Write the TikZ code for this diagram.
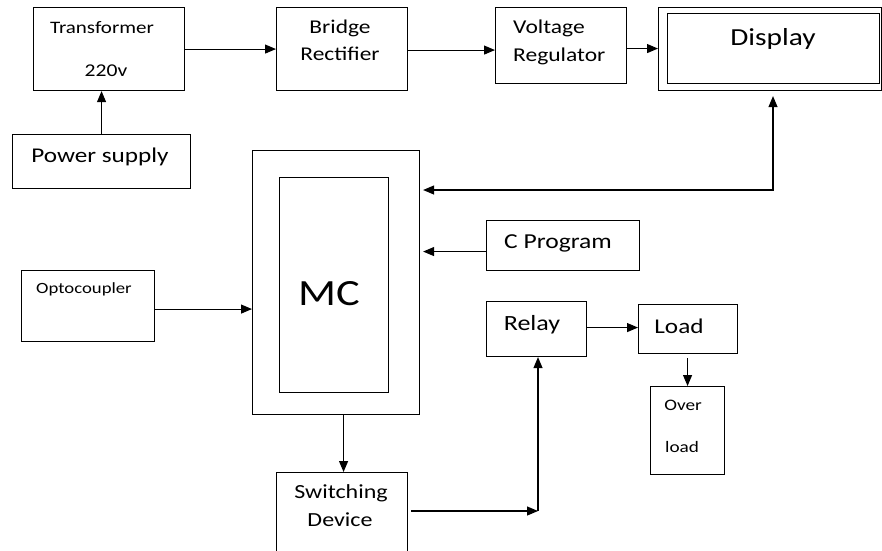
\documentclass[tikz,border=0pt]{standalone}
\usepackage{fontspec}
\setmainfont{Carlito}[FakeStretch=1.2]
\usetikzlibrary{arrows.meta}
\begin{document}
\begin{tikzpicture}[x=1pt,y=-1pt,
  box/.style={draw, line width=1.1pt, inner sep=0pt, anchor=north west},
  txt/.style={anchor=base, inner sep=0pt, font=\fontsize{#1}{#1}\selectfont},
  txtl/.style={anchor=base west, inner sep=0pt, font=\fontsize{#1}{#1}\selectfont},
  arr/.style={line width=1.1pt, -{Triangle[length=11pt,width=9pt]}},
  darr/.style={line width=1.1pt, {Triangle[length=11pt,width=9pt]}-{Triangle[length=11pt,width=9pt]}}]
\useasboundingbox (0,0) rectangle (882,550);
\clip (0,0) rectangle (882,550);
% boxes
\node[box, minimum width=151pt, minimum height=83pt] (trans) at (33,7) {};
\node[box, minimum width=131pt, minimum height=83pt] (bridge) at (276,7) {};
\node[box, minimum width=131pt, minimum height=76pt] (vreg) at (495,7) {};
\node[box, minimum width=223pt, minimum height=83pt] (disp) at (658,7) {};
\node[box, minimum width=212pt, minimum height=70pt] (dispin) at (667,13) {};
\node[box, minimum width=178pt, minimum height=54pt] (power) at (12,134) {};
\node[box, minimum width=167pt, minimum height=264pt] (mc) at (252,150) {};
\node[box, minimum width=109pt, minimum height=215pt] (mcin) at (279,177) {};
\node[box, minimum width=133pt, minimum height=71pt] (opto) at (21,270) {};
\node[box, minimum width=153pt, minimum height=50pt] (cprog) at (486,220) {};
\node[box, minimum width=100pt, minimum height=55pt] (relay) at (486,301) {};
\node[box, minimum width=99pt, minimum height=49pt] (load) at (638,304) {};
\node[box, minimum width=74pt, minimum height=88pt] (over) at (650,386) {};
\node[box, minimum width=131pt, minimum height=90pt] (sw) at (276,472) {};
% texts
\node[txt=17.5] (t1) at (102,33) {Transformer};
\node[txt=18] (t2) at (106,76) {220v};
\node[txt=19.5] (t3) at (340,33) {Bridge};
\node[txt=19.5] (t4) at (340,60) {Rectifier};
\node[txtl=19.6] (t5) at (513,33) {Voltage};
\node[txtl=19.6] (t6) at (513,61) {Regulator};
\node[txt=24.5] (t7) at (773,45) {Display};
\node[txt=21] (t8) at (100,162) {Power supply};
\node[txt=37] (t9) at (329,305) {MC};
\node[txt=15.6] (t10) at (84,293) {Optocoupler};
\node[txt=21.3] (t11) at (558,248) {C Program};
\node[txt=21.7] (t12) at (532,330) {Relay};
\node[txt=21] (t13) at (679,333) {Load};
\node[txt=16] (t14) at (683,410) {Over};
\node[txt=16] (t15) at (682,452) {load};
\node[txt=20] (t16) at (341,498) {Switching};
\node[txt=20] (t17) at (340,526) {Device};
% connectors
\coordinate (c1) at (773,190);
\coordinate (c2) at (538,511);
\draw[arr] (power.north) -- (power.north |- trans.south);
\draw[arr] (trans.east) -- (bridge.west);
\draw[arr] ([yshift=-1pt]bridge.east) -- ([yshift=-1pt]bridge.east -| vreg.west);
\draw[arr] ([yshift=-3pt]vreg.east) -- ([yshift=-3pt]vreg.east -| disp.west);
\draw[darr, shorten <=3pt, shorten >=5pt] (c1 -| mc.east) -- (c1) -- (c1 |- disp.south);
\draw[arr, shorten >=3pt] ([yshift=-6pt]cprog.west) -- ([yshift=-6pt]cprog.west -| mc.east);
\draw[arr] ([yshift=-3pt]opto.east) -- ([yshift=-3pt]opto.east -| mc.west);
\draw[arr] ([xshift=7.5pt]mc.south) -- ([xshift=7.5pt]mc.south |- sw.north);
\draw[arr, shorten <=3pt] (sw.east |- c2) -- (c2);
\draw[arr] (c2) -- (c2 |- relay.south);
\draw[arr] ([yshift=1.5pt]relay.east) -- ([yshift=1.5pt]relay.east -| load.west);
\draw[arr, shorten <=4pt] ([xshift=-0.5pt]load.south) -- ([xshift=-0.5pt]load.south |- over.north);
\end{tikzpicture}
\end{document}
